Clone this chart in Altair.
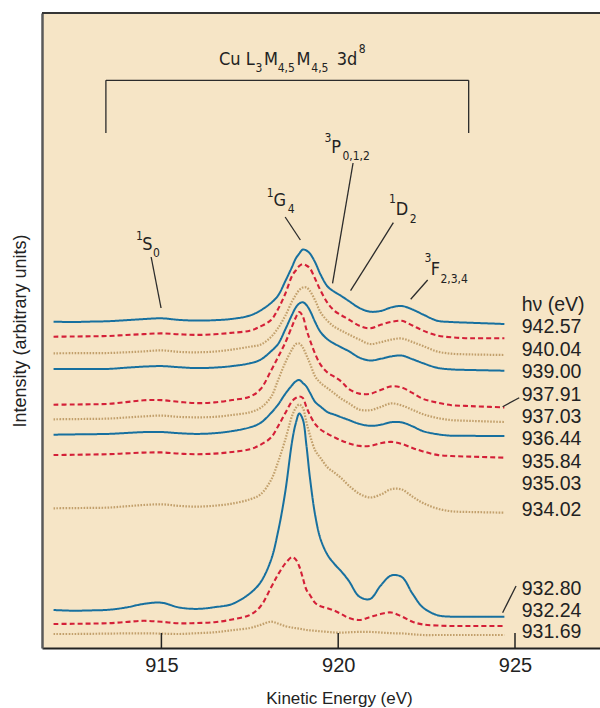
import altair as alt
import pandas as pd

# Kinetic-energy sampling of the Auger spectra (eV)
energy = [911.95, 912.5, 913.0, 913.5, 914.0, 914.5, 915.0, 915.5, 916.0, 916.5,
          917.0, 917.5, 917.8, 918.1, 918.3, 918.5, 918.7, 918.8, 918.9, 919.0,
          919.1, 919.2, 919.35, 919.5, 919.7, 919.9, 920.1, 920.3, 920.6, 920.9,
          921.2, 921.5, 921.8, 922.1, 922.4, 922.8, 923.2, 923.6, 924.0, 924.7]

# Stacked (offset) intensities, arbitrary units, top trace first
trace_01 = [326.3, 326.0, 326.4, 326.8, 327.8, 328.9, 329.7, 328.1, 327.4, 327.8,
            329.1, 332.4, 337.5, 345.0, 352.5, 366.5, 381.5, 389.5, 394.5, 398.5,
            397.5, 394.5, 385.5, 373.5, 361.5, 356.0, 351.7, 347.0, 340.0, 336.3,
            337.0, 340.6, 342.0, 338.5, 333.5, 327.3, 326.0, 325.4, 324.9, 324.0]
trace_02 = [311.3, 311.5, 311.7, 312.0, 313.0, 313.9, 314.6, 313.7, 313.1, 313.7,
            315.2, 317.3, 321.5, 328.0, 339.0, 354.0, 372.5, 377.5, 382.0, 383.8,
            382.5, 379.7, 369.0, 357.5, 345.0, 337.0, 332.5, 328.5, 322.2, 319.7,
            323.2, 326.1, 327.2, 322.5, 317.4, 312.5, 310.7, 309.8, 309.7, 309.7]
trace_03 = [294.7, 294.8, 294.9, 295.0, 295.7, 296.6, 297.6, 296.1, 295.7, 296.4,
            298.4, 301.3, 303.3, 311.0, 320.0, 332.0, 347.0, 353.0, 358.0, 360.5,
            360.5, 357.0, 347.5, 335.7, 327.0, 321.0, 317.2, 313.5, 308.5, 304.0,
            305.8, 308.4, 309.5, 306.0, 302.0, 296.5, 294.3, 293.7, 293.4, 293.0]
trace_04 = [279.0, 279.0, 279.0, 279.1, 280.3, 281.4, 281.9, 280.8, 279.9, 280.4,
            281.9, 284.7, 288.2, 296.7, 304.0, 318.3, 333.7, 340.5, 344.5, 345.8,
            343.0, 337.5, 325.8, 316.0, 308.6, 304.2, 300.4, 296.8, 290.4, 287.5,
            289.2, 291.6, 292.4, 288.8, 284.8, 280.2, 278.6, 278.1, 277.8, 277.3]
trace_05 = [243.3, 243.5, 243.7, 244.1, 245.9, 247.7, 247.9, 246.1, 244.9, 245.6,
            248.0, 251.3, 258.7, 277.3, 291.0, 305.0, 322.2, 330.5, 336.0, 331.5,
            318.7, 308.0, 294.0, 283.4, 275.4, 271.0, 266.1, 259.0, 254.4, 254.2,
            258.0, 261.6, 260.4, 255.1, 249.1, 245.4, 242.8, 242.1, 241.5, 240.6]
trace_06 = [228.7, 228.9, 229.1, 229.4, 230.5, 231.6, 232.4, 231.1, 230.7, 231.1,
            233.0, 235.7, 240.0, 251.0, 268.0, 285.2, 299.0, 304.0, 304.5, 300.5,
            292.8, 284.7, 271.5, 265.2, 259.7, 254.4, 249.0, 244.8, 238.4, 237.8,
            241.0, 244.6, 242.5, 238.2, 233.8, 230.0, 227.9, 227.3, 226.8, 226.0]
trace_07 = [213.3, 213.6, 213.8, 214.1, 215.0, 215.9, 216.0, 214.8, 214.1, 214.8,
            216.9, 220.6, 225.0, 235.0, 243.4, 254.0, 263.0, 266.6, 268.0, 265.0,
            261.5, 255.4, 246.0, 241.4, 235.9, 233.3, 230.6, 228.0, 224.1, 222.2,
            223.2, 225.8, 225.6, 221.7, 216.8, 213.8, 212.3, 212.2, 212.1, 212.0]
trace_08 = [193.0, 193.2, 193.5, 193.8, 194.6, 195.4, 195.6, 194.4, 193.8, 194.4,
            196.0, 198.7, 203.2, 210.5, 221.8, 234.7, 247.0, 250.0, 251.5, 250.0,
            241.1, 233.0, 223.8, 218.5, 214.2, 210.6, 207.3, 204.7, 202.1, 202.1,
            204.8, 206.1, 204.1, 200.0, 196.6, 193.1, 192.0, 191.5, 191.1, 190.3]
trace_09 = [139.7, 139.9, 140.1, 140.4, 141.7, 143.0, 143.7, 142.1, 141.4, 142.3,
            144.4, 148.6, 153.5, 168.0, 186.0, 208.0, 232.5, 240.0, 243.5, 240.0,
            226.0, 213.0, 197.5, 190.0, 180.6, 175.2, 169.4, 162.4, 154.2, 150.5,
            153.4, 158.8, 158.5, 151.4, 145.0, 139.5, 136.7, 136.1, 135.8, 135.3]
trace_10 = [38.0, 37.3, 37.6, 38.2, 40.5, 44.1, 45.3, 40.5, 39.1, 40.8,
            44.0, 54.5, 65.5, 88.0, 116.5, 155.5, 207.5, 224.7, 234.5, 228.5,
            203.0, 170.5, 132.5, 109.0, 93.0, 83.7, 76.1, 67.2, 51.3, 49.0,
            62.4, 72.5, 71.0, 54.4, 40.4, 32.9, 31.3, 31.3, 31.3, 31.3]
trace_11 = [24.0, 24.2, 24.4, 24.8, 26.0, 27.2, 26.2, 24.7, 25.0, 25.8,
            28.5, 33.0, 41.5, 60.5, 73.5, 84.3, 91.0, 88.5, 81.5, 70.0,
            58.3, 53.0, 45.0, 41.8, 39.7, 37.2, 33.7, 30.0, 28.0, 31.0,
            34.0, 35.5, 31.5, 26.2, 23.5, 22.5, 22.0, 22.0, 22.0, 22.0]
trace_12 = [14.0, 14.0, 14.2, 14.4, 14.6, 14.7, 14.4, 14.0, 14.8, 15.7,
            17.8, 20.0, 23.1, 26.3, 24.5, 21.8, 20.4, 19.8, 19.4, 18.7,
            18.0, 17.7, 17.2, 16.7, 16.1, 15.5, 15.4, 15.7, 16.1, 16.1,
            15.5, 14.8, 14.6, 13.7, 13.0, 13.0, 13.0, 13.0, 13.0, 13.0]

traces = [trace_01, trace_02, trace_03, trace_04, trace_05, trace_06,
          trace_07, trace_08, trace_09, trace_10, trace_11, trace_12]

# Photon energies (eV) listed beside the traces
photon_energy = ["942.57", "940.04", "939.00", "937.91", "937.03", "936.44",
                 "935.84", "935.03", "934.02", "932.80", "932.24", "931.69"]
photon_label_level = [314.7, 292.3, 269.7, 247.3, 225.3, 203.0,
                      180.3, 158.0, 132.3, 53.0, 30.7, 9.7]

line_style = ["solid", "dashed", "dotted"] * 4

energy_ticks = [915, 920, 925]

COND = "DejaVu Sans Condensed, sans-serif"
SANS = "Liberation Sans, Arial, sans-serif"
INK = "#222222"

X_SCALE = alt.Scale(domain=[911.623, 927.404], nice=False, zero=False)
Y_SCALE = alt.Scale(domain=[0, 635], nice=False, zero=False)

x_axis = alt.Axis(
    values=energy_ticks, ticks=False, tickSize=0, grid=False,
    labelFont=SANS, labelFontSize=20, labelColor=INK,
    labelBaseline="alphabetic", labelPadding=23.7,
    domainColor=INK, domainWidth=2,
    title="Kinetic Energy (eV)", titleFont=SANS, titleFontSize=17,
    titleFontWeight="normal", titleColor=INK,
    titleX=297, titleY=55.5, titleAlign="center", titleBaseline="alphabetic",
)
y_axis = alt.Axis(
    labels=False, ticks=False, grid=False,
    domainColor="#5a5a5a", domainWidth=2.5,
    title="Intensity (arbitrary units)", titleFont=SANS, titleFontSize=18,
    titleFontWeight="normal", titleColor=INK, titleAngle=270,
    titleX=-22, titleY=317.5, titleAlign="center", titleBaseline="middle",
)


def xq(field):
    return alt.X(field, type="quantitative", scale=X_SCALE, axis=x_axis)


def yq(field):
    return alt.Y(field, type="quantitative", scale=Y_SCALE, axis=y_axis)


# long table of all spectra
rows = []
for label, values, style in zip(photon_energy, traces, line_style):
    for e, v in zip(energy, values):
        rows.append({"E": e, "v": v, "trace": label, "style": style})
spectra = pd.DataFrame(rows)

style_domain = ["solid", "dashed", "dotted"]
lines = alt.Chart(spectra).mark_line(interpolate="catmull-rom").encode(
    x=xq("E"),
    y=yq("v"),
    detail="trace:N",
    color=alt.Color("style:N", scale=alt.Scale(domain=style_domain,
                    range=["#17709f", "#d42038", "#c2a06c"]), legend=None),
    strokeDash=alt.StrokeDash("style:N", scale=alt.Scale(domain=style_domain,
                              range=[[1, 0], [5, 3], [1.6, 1.4]]), legend=None),
    size=alt.Size("style:N", scale=alt.Scale(domain=style_domain,
                  range=[2.0, 2.2, 2.2]), legend=None),
)

# inward tick marks on the energy axis
tick_df = pd.DataFrame({"E": energy_ticks, "v": [0] * 3, "v2": [15] * 3})
ticks = alt.Chart(tick_df).mark_rule(color=INK, strokeWidth=1.5).encode(
    x=xq("E"), y=yq("v"), y2="v2:Q")

# frame line along the top of the plot
top_border = alt.Chart(tick_df).mark_rule(color="#333333", strokeWidth=1.5).encode(
    x=alt.value(0), x2=alt.value(558), y=alt.value(0))

# bracket over the multiplet and leader lines to the terms
seg_df = pd.DataFrame([
    {"E": 913.43, "v": 567.7, "E2": 923.69, "v2": 567.7},
    {"E": 913.43, "v": 567.7, "E2": 913.43, "v2": 515.0},
    {"E": 923.69, "v": 567.7, "E2": 923.69, "v2": 515.0},
    {"E": 914.71, "v": 391.0, "E2": 914.99, "v2": 340.0},
    {"E": 918.50, "v": 431.0, "E2": 918.93, "v2": 408.0},
    {"E": 920.42, "v": 485.0, "E2": 919.84, "v2": 364.7},
    {"E": 921.56, "v": 425.3, "E2": 920.35, "v2": 357.3},
    {"E": 922.53, "v": 368.0, "E2": 922.05, "v2": 348.7},
    {"E": 925.12, "v": 250.3, "E2": 924.65, "v2": 241.3},
    {"E": 925.03, "v": 62.0, "E2": 924.65, "v2": 35.3},
])
segments = alt.Chart(seg_df).mark_rule(color="#2b2b2b", strokeWidth=1.3).encode(
    x=xq("E"), y=yq("v"), x2="E2:Q", y2="v2:Q")

# term symbols and the transition name, with sub/superscripts as smaller text
text_df = pd.DataFrame([
    {"E": 916.63, "v": 583.0, "t": "Cu L", "s": 18},
    {"E": 917.66, "v": 576.3, "t": "3", "s": 12},
    {"E": 917.90, "v": 583.0, "t": "M", "s": 18},
    {"E": 918.29, "v": 576.3, "t": "4,5", "s": 12},
    {"E": 918.82, "v": 583.0, "t": "M", "s": 18},
    {"E": 919.24, "v": 576.3, "t": "4,5", "s": 12},
    {"E": 919.96, "v": 583.0, "t": "3d", "s": 18},
    {"E": 920.58, "v": 594.7, "t": "8", "s": 12},
    # 1S0
    {"E": 914.28, "v": 408.0, "t": "1", "s": 12},
    {"E": 914.46, "v": 398.0, "t": "S", "s": 18},
    {"E": 914.76, "v": 391.3, "t": "0", "s": 12},
    # 1G4
    {"E": 917.98, "v": 451.3, "t": "1", "s": 12},
    {"E": 918.17, "v": 442.0, "t": "G", "s": 18},
    {"E": 918.57, "v": 434.7, "t": "4", "s": 12},
    # 3P0,1,2
    {"E": 919.61, "v": 506.3, "t": "3", "s": 12},
    {"E": 919.80, "v": 494.7, "t": "P", "s": 18},
    {"E": 920.12, "v": 488.0, "t": "0,1,2", "s": 12},
    # 1D2
    {"E": 921.44, "v": 445.0, "t": "1", "s": 12},
    {"E": 921.63, "v": 433.0, "t": "D", "s": 18},
    {"E": 922.02, "v": 425.0, "t": "2", "s": 12},
    # 3F2,3,4
    {"E": 922.44, "v": 385.7, "t": "3", "s": 12},
    {"E": 922.62, "v": 373.0, "t": "F", "s": 18},
    {"E": 922.89, "v": 364.7, "t": "2,3,4", "s": 12},
])
terms = alt.Chart(text_df).mark_text(
    align="left", baseline="alphabetic", font=COND, color=INK
).encode(x=xq("E"), y=yq("v"), text="t:N", size=alt.Size("s:Q", scale=None))

# photon-energy column
hv_df = pd.DataFrame({
    "E": [925.19] * (len(photon_energy) + 1),
    "v": [337.5] + photon_label_level,
    "t": ["hν (eV)"] + photon_energy,
})
hv_labels = alt.Chart(hv_df).mark_text(
    align="left", baseline="alphabetic", font=SANS, fontSize=19.5, color=INK
).encode(x=xq("E"), y=yq("v"), text="t:N")

chart = alt.layer(lines, ticks, segments, terms, hv_labels, top_border).properties(
    width=558, height=635,
    padding={"left": 42, "top": 13, "right": 0, "bottom": 60},
    autosize=alt.AutoSizeParams(type="none"),
    background="white",
).configure_view(fill="#f6e5c6", stroke=None)

chart.save("out.html", embed_options={"renderer": "svg", "actions": False})
